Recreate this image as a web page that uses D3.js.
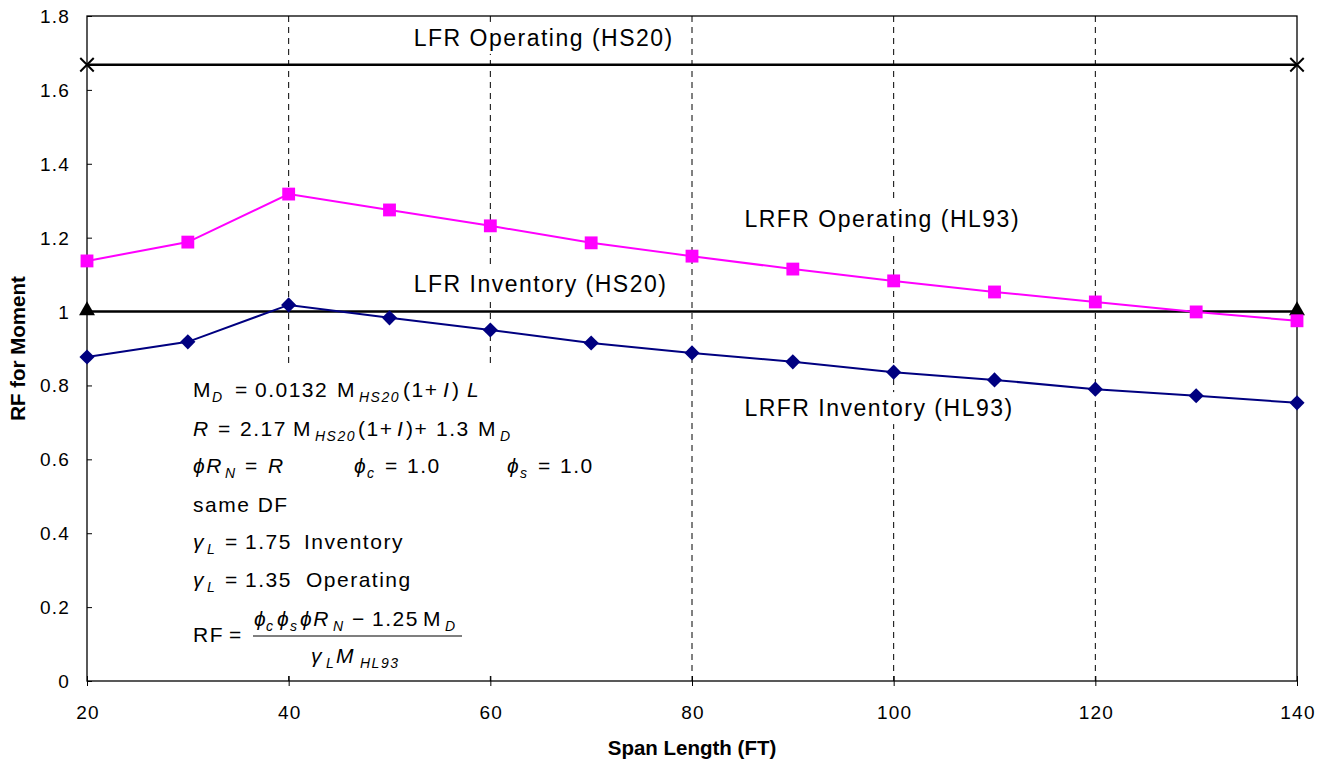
<!DOCTYPE html>
<html>
<head>
<meta charset="utf-8">
<script src="https://cdn.jsdelivr.net/npm/d3@7"></script>
<style>
  body { margin: 0; background: #fff; }
  svg text { font-family: "Liberation Sans", Arial, sans-serif; }
</style>
</head>
<body>
<svg id="chart"></svg>
<script>
// Span lengths (ft) and rating factors
const spans = [20, 30, 40, 50, 60, 70, 80, 90, 100, 110, 120, 130, 140];
const lrfrOperating = [1.137, 1.188, 1.318, 1.275, 1.232, 1.186, 1.150, 1.115, 1.083, 1.053, 1.026, 0.999, 0.975];
const lrfrInventory = [0.877, 0.918, 1.018, 0.983, 0.950, 0.915, 0.888, 0.864, 0.836, 0.815, 0.790, 0.772, 0.753];
const lfrOperatingValue = 1.668;
const lfrInventoryValue = 1.0;
const xTicks = [20, 40, 60, 80, 100, 120, 140];
const yTicks = [0, 0.2, 0.4, 0.6, 0.8, 1.0, 1.2, 1.4, 1.6, 1.8];
const gridSpans = [40, 60, 80, 100, 120];

const width = 1335, height = 766;
const margin = { top: 16, right: 38, bottom: 85, left: 87 };

const svg = d3.select("#chart").attr("width", width).attr("height", height);

const x = d3.scaleLinear().domain([20, 140]).range([margin.left, width - margin.right]);
const y = d3.scaleLinear().domain([0, 1.8]).range([height - margin.bottom, margin.top]);

// dashed vertical grid lines
svg.append("g").selectAll("line")
  .data(gridSpans)
  .join("line")
  .attr("x1", d => x(d)).attr("x2", d => x(d))
  .attr("y1", y(1.8)).attr("y2", y(0))
  .attr("stroke", "#000")
  .attr("stroke-width", 1)
  .attr("stroke-dasharray", "6,5");

// series labels, each on a white box that hides the grid behind it
const labels = [
  { text: "LFR Operating (HS20)", span: 52.4, val: 1.719 },
  { text: "LFR Inventory (HS20)", span: 52.4, val: 1.053 },
  { text: "LRFR Operating (HL93)", span: 85.2, val: 1.229 },
  { text: "LRFR Inventory (HL93)", span: 85.2, val: 0.717 }
];
const labelG = svg.append("g");
labels.forEach(l => {
  const g = labelG.append("g");
  const t = g.append("text")
    .attr("x", x(l.span)).attr("y", y(l.val))
    .attr("font-size", 23)
    .attr("letter-spacing", 1.5)
    .attr("fill", "#000")
    .text(l.text);
  const b = t.node().getBBox();
  g.insert("rect", "text")
    .attr("x", b.x - 8).attr("y", b.y - 3)
    .attr("width", b.width + 16).attr("height", b.height + 6)
    .attr("fill", "#fff");
});

// formula block
const fg = svg.append("g");
fg.append("rect")
  .attr("x", 176).attr("y", 368).attr("width", 428).attr("height", 308)
  .attr("fill", "#fff");

const F = 21, S = 14;
// one piece of the formula: x, baseline, text, size, italic, subscript shift
function seg(xp, yb, txt, size, italic, shift) {
  fg.append("text")
    .attr("x", xp).attr("y", yb + (shift || 0))
    .attr("font-size", size)
    .attr("letter-spacing", 1.5)
    .attr("font-style", italic ? "italic" : "normal")
    .attr("fill", "#000")
    .text(txt);
}
let b1 = 397;
seg(193, b1, "M", F); seg(212, b1, "D", S, true, 5);
seg(235, b1, "=", F); seg(255, b1, "0.0132", F); seg(337, b1, "M", F);
seg(359, b1, "HS20", S, true, 5); seg(403, b1, "(1+", F); seg(443, b1, "I", F, true);
seg(452, b1, ")", F); seg(467, b1, "L", F, true);

let b2 = 436;
seg(193, b2, "R", F, true); seg(218, b2, "=", F); seg(240, b2, "2.17", F); seg(293, b2, "M", F);
seg(315, b2, "HS20", S, true, 5); seg(358, b2, "(1+", F); seg(397, b2, "I", F, true);
seg(406, b2, ")+", F); seg(436, b2, "1.3", F); seg(478, b2, "M", F); seg(500, b2, "D", S, true, 5);

let b3 = 473;
seg(193, b3, "\u03D5R", F, true); seg(225, b3, "N", S, true, 5); seg(245, b3, "=", F); seg(268, b3, "R", F, true);
seg(354, b3, "\u03D5", F, true); seg(367, b3, "c", S, true, 5); seg(385, b3, "=", F); seg(407, b3, "1.0", F);
seg(507, b3, "\u03D5", F, true); seg(520, b3, "s", S, true, 5); seg(538, b3, "=", F); seg(560, b3, "1.0", F);

seg(193, 512, "same DF", F);

let b5 = 549;
seg(193, b5, "\u03B3", F, true); seg(207, b5, "L", S, true, 5); seg(225, b5, "=", F);
seg(245, b5, "1.75", F); seg(304, b5, "Inventory", F);
let b6 = 587;
seg(193, b6, "\u03B3", F, true); seg(207, b6, "L", S, true, 5); seg(225, b6, "=", F);
seg(245, b6, "1.35", F); seg(306, b6, "Operating", F);

seg(193, 642, "RF", F); seg(229, 642, "=", F);
let bn = 626;
seg(254, bn, "\u03D5", F, true); seg(266, bn, "c", S, true, 5);
seg(277, bn, "\u03D5", F, true); seg(290, bn, "s", S, true, 5);
seg(300, bn, "\u03D5R", F, true); seg(333, bn, "N", S, true, 5);
seg(352, bn, "\u2212", F); seg(372, bn, "1.25", F); seg(423, bn, "M", F); seg(445, bn, "D", S, true, 5);
fg.append("line").attr("x1", 253).attr("x2", 462).attr("y1", 636).attr("y2", 636)
  .attr("stroke", "#000").attr("stroke-width", 1.2);
let bd = 663;
seg(311, bd, "\u03B3", F, true); seg(326, bd, "L", S, true, 5);
seg(336, bd, "M", F, true); seg(360, bd, "HL93", S, true, 5);

// axes frame
svg.append("rect")
  .attr("x", x(20)).attr("y", y(1.8))
  .attr("width", x(140) - x(20)).attr("height", y(0) - y(1.8))
  .attr("fill", "none").attr("stroke", "#000").attr("stroke-width", 1.3);

const yAxis = svg.append("g")
  .attr("transform", `translate(${x(20)},0)`)
  .call(d3.axisRight(y).tickValues(yTicks).tickSize(5).tickFormat(""));
yAxis.select(".domain").remove();
svg.append("g").selectAll("text")
  .data(yTicks)
  .join("text")
  .attr("x", 70).attr("y", d => y(d) + 7)
  .attr("text-anchor", "end")
  .attr("font-size", 19)
  .attr("letter-spacing", 1.2)
  .attr("fill", "#000")
  .text(d => String(+d.toFixed(1)));

const xAxis = svg.append("g")
  .attr("transform", `translate(0,${y(0) - 5})`)
  .call(d3.axisBottom(x).tickValues(xTicks).tickSize(10).tickFormat(""));
xAxis.select(".domain").remove();
svg.append("g").selectAll("text")
  .data(xTicks)
  .join("text")
  .attr("x", d => x(d) + 1).attr("y", y(0) + 38)
  .attr("text-anchor", "middle")
  .attr("font-size", 19)
  .attr("letter-spacing", 1.2)
  .attr("fill", "#000")
  .text(d => d);

svg.append("text")
  .attr("x", x(80)).attr("y", 755)
  .attr("text-anchor", "middle")
  .attr("font-size", 20.5).attr("font-weight", "bold")
  .text("Span Length (FT)");
svg.append("text")
  .attr("transform", `translate(25,${y(0.9)}) rotate(-90)`)
  .attr("text-anchor", "middle")
  .attr("font-size", 20.5).attr("font-weight", "bold")
  .text("RF for Moment");

// LFR horizontal lines
const hLines = [
  { v: lfrOperatingValue, marker: "cross" },
  { v: lfrInventoryValue, marker: "triangle" }
];
hLines.forEach(h => {
  svg.append("line")
    .attr("x1", x(20)).attr("x2", x(140))
    .attr("y1", y(h.v)).attr("y2", y(h.v))
    .attr("stroke", "#000").attr("stroke-width", 2.5);
  [20, 140].forEach(s => {
    if (h.marker === "cross") {
      svg.append("path")
        .attr("d", d3.symbol().type(d3.symbolX).size(120)())
        .attr("transform", `translate(${x(s)},${y(h.v)})`)
        .attr("stroke", "#000").attr("stroke-width", 2).attr("fill", "none");
    } else {
      svg.append("path")
        .attr("d", d3.symbol().type(d3.symbolTriangle).size(110)())
        .attr("transform", `translate(${x(s)},${y(h.v) - 1})`)
        .attr("fill", "#000");
    }
  });
});

// LRFR series
const series = [
  { vals: lrfrOperating, color: "#ff00ff", size: 165, rot: 0 },
  { vals: lrfrInventory, color: "#000080", size: 115, rot: 45 }
];
const line = d3.line().x((d, i) => x(spans[i])).y(d => y(d));
series.forEach(s => {
  svg.append("path")
    .datum(s.vals)
    .attr("d", line)
    .attr("fill", "none")
    .attr("stroke", s.color)
    .attr("stroke-width", 2);
  svg.append("g").selectAll("path")
    .data(s.vals)
    .join("path")
    .attr("d", d3.symbol().type(d3.symbolSquare).size(s.size)())
    .attr("transform", (d, i) => `translate(${x(spans[i])},${y(d)}) rotate(${s.rot})`)
    .attr("fill", s.color);
});
</script>
</body>
</html>
